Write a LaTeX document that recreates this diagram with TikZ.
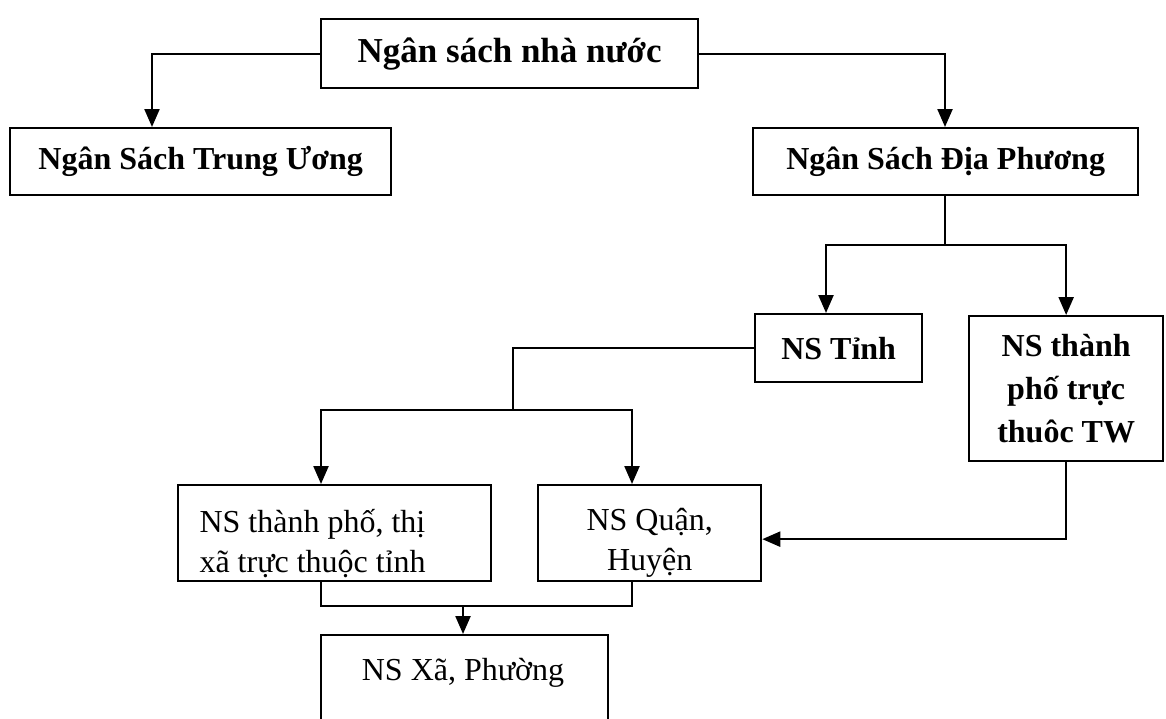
\documentclass[tikz,border=0pt]{standalone}
\usepackage{fontspec}
\setmainfont{Liberation Serif}
\usetikzlibrary{arrows.meta,calc}
\begin{document}
\begin{tikzpicture}[x=1pt,y=-1pt,
  box/.style={draw,line width=2.3pt,rectangle,inner sep=0pt,anchor=north west,align=center},
  bfbig/.style={font=\fontsize{35}{45}\selectfont\bfseries},
  bf/.style={font=\fontsize{32}{43}\selectfont\bfseries},
  rg/.style={font=\fontsize{32}{40}\selectfont},
  arr/.style={line width=2.3pt,-{Triangle[length=18pt,width=15pt]}},
  ln/.style={line width=2.3pt}]
\useasboundingbox (0,0) rectangle (1166,718);
\clip (0,0) rectangle (1166,718);
\node[box,bfbig,minimum width=377pt,minimum height=69pt] (top) at (320,18) {Ngân sách nhà nước};
\node[box,bf,minimum width=381pt,minimum height=67pt] (tu) at (9,127) {Ngân Sách Trung Ương};
\node[box,bf,minimum width=385pt,minimum height=67pt] (dp) at (752,127) {Ngân Sách Địa Phương};
\node[box,bf,minimum width=167pt,minimum height=68pt] (tinh) at (754,313) {NS Tỉnh};
\node[box,bf,minimum width=194pt,minimum height=145pt] (tw) at (968,315) {NS thành\\phố trực\\thuôc TW};
\node[box,minimum width=313pt,minimum height=96pt] (tp) at (177,484) {};
\node[rg,align=left,anchor=west] (tpt) at ($(tp.west)+(19,10)$) {NS thành phố, thị\\xã trực thuộc tỉnh};
\node[box,minimum width=223pt,minimum height=96pt] (qh) at (537,484) {};
\node[rg,align=center] (qht) at ($(qh.center)+(0,10)$) {NS Quận,\\Huyện};
\node[box,minimum width=287pt,minimum height=120pt] (xa) at (320,634) {};
\node[rg,anchor=base] (xat) at (463,680) {NS Xã, Phường};
\draw[arr] (top.west) -| ($(tu.north west)+(143,0)$);
\draw[arr] (top.east) -| ($(dp.north west)+(193,0)$);
\coordinate (s1) at ($(dp.south west)+(193,49)$);
\draw[ln] ($(dp.south west)+(193,0)$) -- (s1);
\draw[arr] (s1) -| ($(tinh.north west)+(72,0)$);
\draw[arr] (s1) -| (tw.north);
\coordinate (s2) at (513,410);
\draw[ln] (tinh.west) -| (s2);
\draw[arr] (s2) -| ($(tp.north west)+(144,0)$);
\draw[arr] (s2) -| ($(qh.north west)+(95,0)$);
\draw[arr] (tw.south) |- ($(qh.east)+(0,6)$);
\coordinate (s3) at (463,606);
\draw[ln] ($(tp.south west)+(144,0)$) |- (s3);
\draw[ln] ($(qh.south west)+(95,0)$) |- (s3);
\draw[arr] (s3) -- (s3 |- xa.north);
\end{tikzpicture}
\end{document}
